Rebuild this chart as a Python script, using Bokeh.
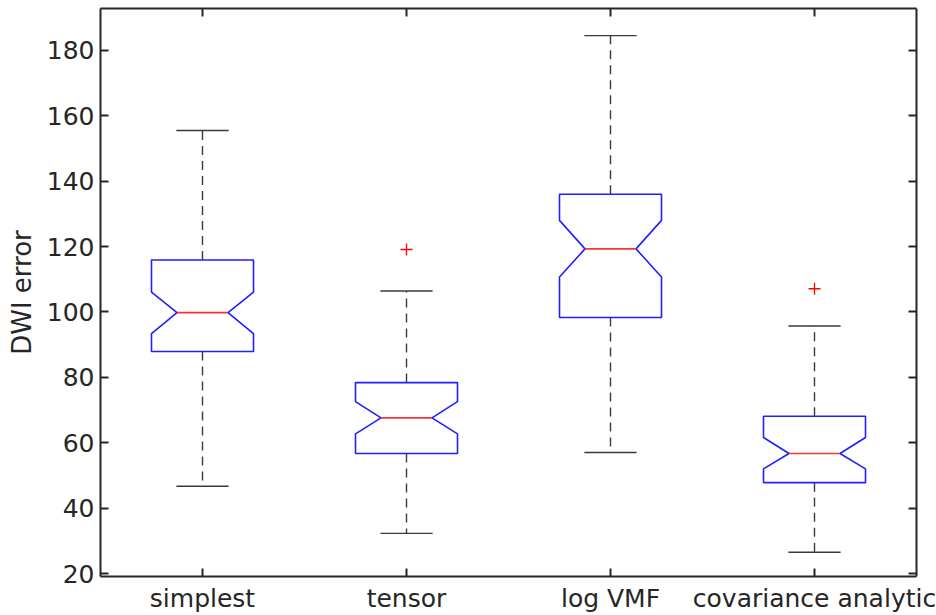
from bokeh.plotting import figure
from bokeh.models import Range1d, FixedTicker, LinearAxis, CustomLabelingPolicy
from bokeh.embed import file_html
from bokeh.resources import INLINE

categories = ["simplest", "tensor", "log VMF", "covariance analytic"]
whisker_low = [46.7, 32.3, 57.0, 26.5]
q1 = [87.9, 56.7, 98.3, 47.8]
notch_low = [93.4, 62.7, 110.7, 52.0]
median = [99.8, 67.6, 119.3, 56.7]
notch_high = [106.1, 72.6, 128.0, 61.6]
q3 = [115.9, 78.4, 136.0, 68.1]
whisker_high = [155.5, 106.4, 184.5, 95.7]
outlier_cat = [2, 4]
outlier_val = [119.1, 107.1]
y_ticks = [20, 40, 60, 80, 100, 120, 140, 160, 180]

FONT = "DejaVu Sans"
AX = "#262626"

p = figure(width=936, height=615, output_backend="svg", toolbar_location=None,
           x_range=Range1d(0.5, 4.5), y_range=Range1d(19.1, 192.8),
           min_border_left=100, min_border_right=20, min_border_top=8, min_border_bottom=38)
p.outline_line_color = None
p.xgrid.grid_line_color = None
p.ygrid.grid_line_color = None
p.background_fill_color = "white"

xs = [1, 2, 3, 4]
w, n, cw = 0.25, 0.125, 0.128
polys_x, polys_y = [], []
for c, a, nl, m, nh, b in zip(xs, q1, notch_low, median, notch_high, q3):
    polys_x.append([c - w, c + w, c + w, c + n, c + w, c + w, c - w, c - w, c - n, c - w])
    polys_y.append([a, a, nl, m, nh, b, b, nh, m, nl])

# whiskers
p.segment(x0=xs, y0=q3, x1=xs, y1=whisker_high, line_color="#3a3a3a", line_width=1.4, line_dash="9 6")
p.segment(x0=xs, y0=q1, x1=xs, y1=whisker_low, line_color="#3a3a3a", line_width=1.4, line_dash="9 6")
p.segment(x0=[c - cw for c in xs], y0=whisker_high, x1=[c + cw for c in xs], y1=whisker_high,
          line_color="#3a3a3a", line_width=1.4)
p.segment(x0=[c - cw for c in xs], y0=whisker_low, x1=[c + cw for c in xs], y1=whisker_low,
          line_color="#3a3a3a", line_width=1.4)
# boxes
p.patches(polys_x, polys_y, fill_color="white", line_color="#2020ff", line_width=1.6)
# medians
p.segment(x0=[c - n for c in xs], y0=median, x1=[c + n for c in xs], y1=median,
          line_color="#ff3030", line_width=1.6)
# outliers
p.scatter(outlier_cat, outlier_val, marker="cross", size=12, line_color="red", line_width=1.3)

no_labels = CustomLabelingPolicy(code="return new Set()")


def style(ax, labels=True):
    ax.axis_line_width = 2
    ax.axis_line_color = AX
    ax.major_tick_line_color = AX
    ax.major_tick_line_width = 2
    ax.major_tick_in = 8
    ax.major_tick_out = 0
    ax.minor_tick_line_color = None
    ax.major_label_text_font = FONT
    ax.major_label_text_color = AX
    ax.major_label_text_font_size = "25px"
    if not labels:
        ax.major_label_policy = no_labels
        ax.major_label_text_font_size = "1px"
        ax.major_label_standoff = 0


yl = p.yaxis[0]
yl.ticker = FixedTicker(ticks=y_ticks)
style(yl)
yl.major_label_standoff = 6
yl.axis_label = "DWI error"
yl.axis_label_text_font = FONT
yl.axis_label_text_font_size = "26px"
yl.axis_label_text_font_style = "normal"
yl.axis_label_text_color = AX
yl.axis_label_standoff = 7

xb = p.xaxis[0]
xb.ticker = FixedTicker(ticks=xs)
xb.major_label_overrides = {i + 1: c for i, c in enumerate(categories)}
style(xb)
xb.major_label_standoff = 7

yr = LinearAxis(ticker=FixedTicker(ticks=y_ticks))
style(yr, labels=False)
p.add_layout(yr, "right")
xt = LinearAxis(ticker=FixedTicker(ticks=xs))
style(xt, labels=False)
p.add_layout(xt, "above")

open("out.html", "w").write(file_html(p, INLINE))
